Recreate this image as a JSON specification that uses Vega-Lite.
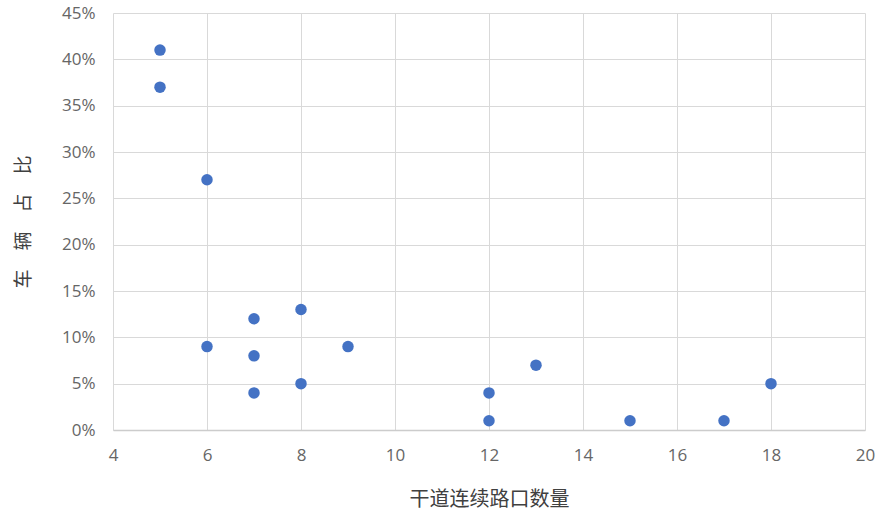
{
  "$schema": "https://vega.github.io/schema/vega-lite/v6.json",
  "autosize": {"type": "none"},
  "padding": {"left": 113, "top": 13, "right": 24, "bottom": 86},
  "width": 752,
  "height": 417,
  "background": "white",
  "config": {
    "view": {"stroke": null},
    "font": "Noto Sans CJK SC",
    "axis": {
      "labelFont": "Open Sans",
      "labelFontSize": 17,
      "labelColor": "#666666",
      "titleColor": "#404040",
      "titleFont": "Noto Sans CJK SC",
      "titleFontWeight": "normal",
      "gridColor": "#d9d9d9",
      "gridWidth": 1,
      "ticks": false,
      "domain": false,
      "labelFlush": false
    }
  },
  "data": {
    "values": [
      {"n": 5, "p": 0.41},
      {"n": 5, "p": 0.37},
      {"n": 6, "p": 0.27},
      {"n": 6, "p": 0.09},
      {"n": 7, "p": 0.12},
      {"n": 7, "p": 0.08},
      {"n": 7, "p": 0.04},
      {"n": 8, "p": 0.13},
      {"n": 8, "p": 0.05},
      {"n": 9, "p": 0.09},
      {"n": 12, "p": 0.04},
      {"n": 12, "p": 0.01},
      {"n": 13, "p": 0.07},
      {"n": 15, "p": 0.01},
      {"n": 17, "p": 0.01},
      {"n": 18, "p": 0.05}
    ]
  },
  "mark": {"type": "circle", "size": 132, "color": "#4472C4", "opacity": 1},
  "encoding": {
    "x": {
      "field": "n", "type": "quantitative",
      "scale": {"domain": [4, 20], "nice": false, "zero": false},
      "axis": {"values": [4, 6, 8, 10, 12, 14, 16, 18, 20], "title": "干道连续路口数量", "titleFontSize": 20, "labelPadding": 17, "titlePadding": 26, "labelOverlap": false, "domain": true, "domainColor": "#cccccc", "domainWidth": 1.5}
    },
    "y": {
      "field": "p", "type": "quantitative",
      "scale": {"domain": [0, 0.45], "nice": false},
      "axis": {"values": [0, 0.05, 0.1, 0.15, 0.2, 0.25, 0.3, 0.35, 0.4, 0.45], "format": ".0%", "title": "车　辆　占　比", "titleFontSize": 19, "labelPadding": 18, "titlePadding": 28, "labelOverlap": false}
    }
  }
}
